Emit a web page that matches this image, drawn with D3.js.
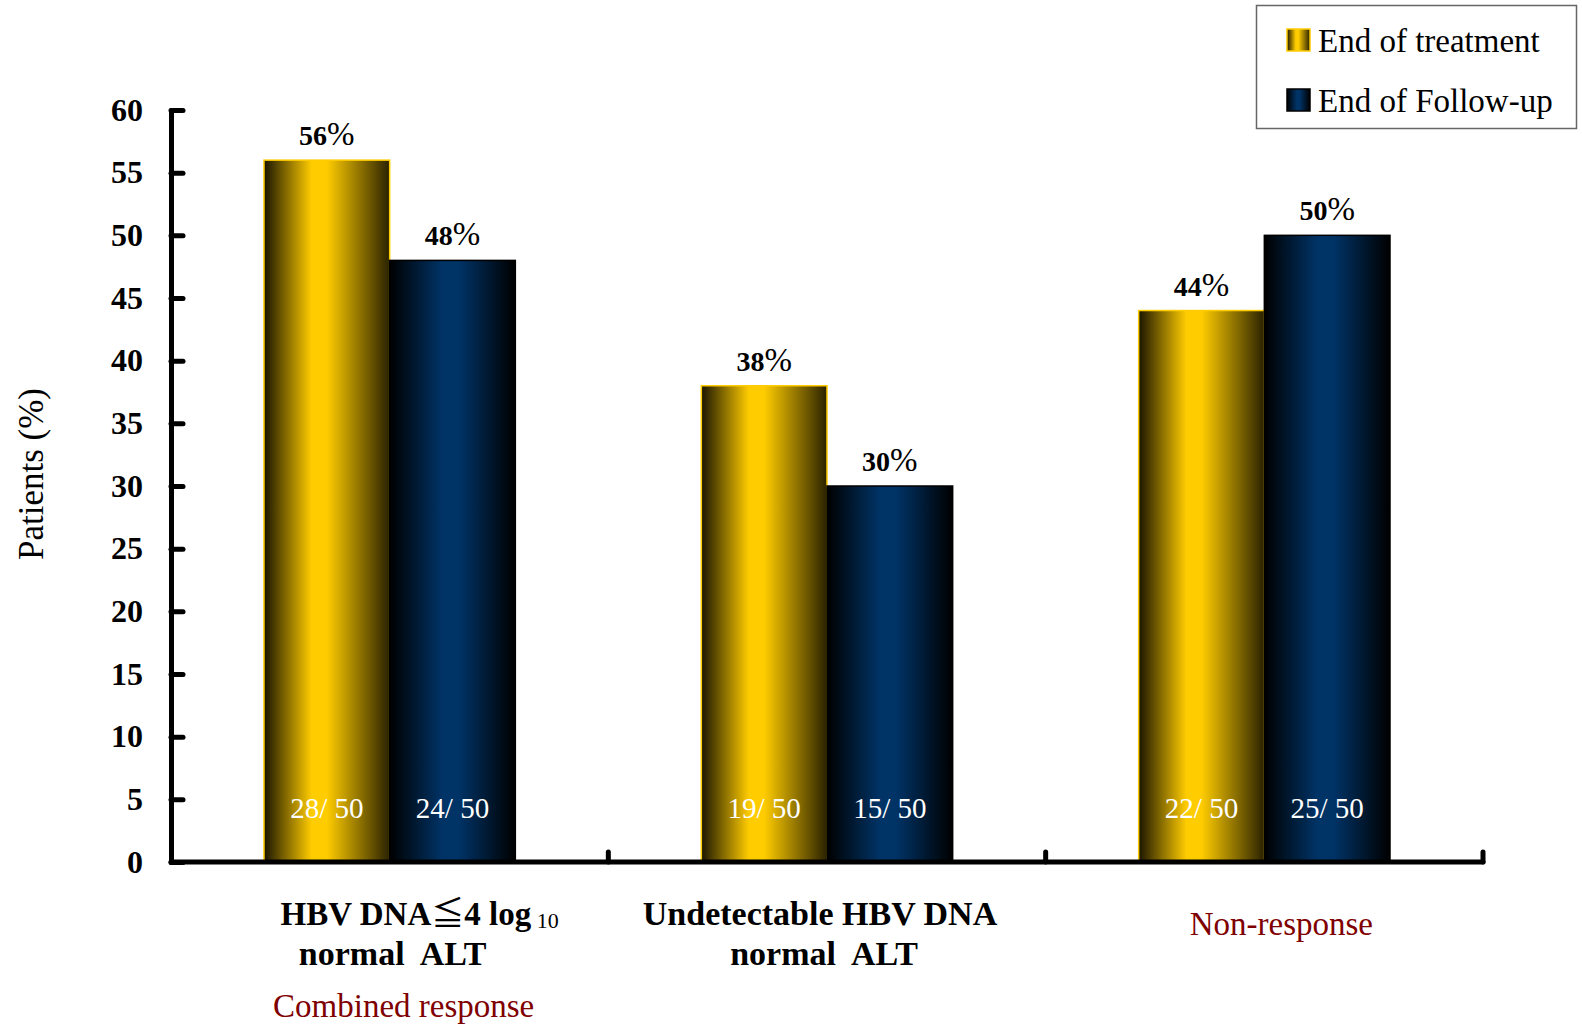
<!DOCTYPE html>
<html>
<head>
<meta charset="utf-8">
<script src="https://cdn.jsdelivr.net/npm/d3@7"></script>
<style>
  html, body { margin: 0; padding: 0; background: #fff; }
  svg { display: block; font-family: "Liberation Serif", "Times New Roman", serif; }
</style>
</head>
<body>
<svg id="chart" width="1582" height="1029"></svg>
<script>
// Response rates (%) per outcome group
const categories = ["HBV DNA≦4 log10 normal ALT", "Undetectable HBV DNA normal ALT", "Non-response"];
const seriesNames = ["End of treatment", "End of Follow-up"];
const endOfTreatment = [56, 38, 44];
const endOfFollowUp = [48, 30, 50];
const treatmentCounts = ["28/ 50", "19/ 50", "22/ 50"];
const followUpCounts = ["24/ 50", "15/ 50", "25/ 50"];
const yTicks = [0, 5, 10, 15, 20, 25, 30, 35, 40, 45, 50, 55, 60];

const svg = d3.select("#chart");
const plotLeft = 171, plotRight = 1483, plotTop = 110, plotBottom = 862;

const x = d3.scaleBand().domain(categories).range([plotLeft, plotRight]).paddingInner(0).paddingOuter(0);
const inner = d3.scaleBand().domain(seriesNames).range([93, x.bandwidth() - 93]).padding(0);
const y = d3.scaleLinear().domain([0, 60]).range([plotBottom, plotTop]);

// Cylinder-like horizontal gradients for the two series
const defs = svg.append("defs");
function hGradient(id, stops) {
  const g = defs.append("linearGradient").attr("id", id)
    .attr("x1", "0%").attr("x2", "100%").attr("y1", "0%").attr("y2", "0%");
  stops.forEach(([o, c]) => g.append("stop").attr("offset", o).attr("stop-color", c));
}
hGradient("gradGold", [[0, "#1a1500"], [0.38, "#ffcc00"], [0.5, "#ffcc00"], [1, "#2a2200"]]);
hGradient("gradNavy", [[0, "#000000"], [0.42, "#003366"], [0.55, "#003366"], [1, "#000000"]]);

const seriesStyle = {
  "End of treatment": { fill: "url(#gradGold)", stroke: "#ffcc00" },
  "End of Follow-up": { fill: "url(#gradNavy)", stroke: "#000000" }
};

const rows = categories.map((c, i) => ({
  cat: c,
  bars: [
    { series: seriesNames[0], value: endOfTreatment[i], count: treatmentCounts[i] },
    { series: seriesNames[1], value: endOfFollowUp[i], count: followUpCounts[i] }
  ]
}));

const groups = svg.append("g").selectAll("g").data(rows).join("g")
  .attr("transform", d => `translate(${x(d.cat)},0)`);

groups.selectAll("rect").data(d => d.bars).join("rect")
  .attr("x", d => inner(d.series))
  .attr("y", d => y(d.value))
  .attr("width", inner.bandwidth())
  .attr("height", d => y(0) - y(d.value))
  .attr("fill", d => seriesStyle[d.series].fill)
  .attr("stroke", d => seriesStyle[d.series].stroke)
  .attr("stroke-width", 1.5);

// Percentages above the bars
const pct = groups.selectAll("text.pct").data(d => d.bars).join("text")
  .attr("class", "pct")
  .attr("x", d => inner(d.series) + inner.bandwidth() / 2)
  .attr("y", d => y(d.value) - 15)
  .attr("text-anchor", "middle")
  .attr("font-size", 28);
pct.append("tspan").attr("font-weight", "bold").text(d => d.value);
pct.append("tspan").attr("font-size", 33).text("%");

// Patient counts inside the bars
groups.selectAll("text.cnt").data(d => d.bars).join("text")
  .attr("class", "cnt")
  .attr("x", d => inner(d.series) + inner.bandwidth() / 2)
  .attr("y", y(0) - 44)
  .attr("text-anchor", "middle")
  .attr("font-size", 29)
  .attr("fill", "#ffffff")
  .text(d => d.count);

// Y axis
const yAxis = d3.axisLeft(y).tickValues(yTicks).tickSizeInner(-12).tickSizeOuter(0).tickPadding(28);
const yg = svg.append("g").attr("transform", `translate(${plotLeft},0)`).call(yAxis);
yg.select(".domain").attr("stroke", "#000").attr("stroke-width", 5).attr("stroke-linecap", "round");
yg.selectAll(".tick line").attr("stroke", "#000").attr("stroke-width", 5).attr("stroke-linecap", "round");
yg.selectAll(".tick text").attr("font-size", 32).attr("font-weight", "bold")
  .attr("font-family", "'Liberation Serif', 'Times New Roman', serif").attr("fill", "#000");

// X axis baseline with group separators
svg.append("line")
  .attr("x1", plotLeft).attr("x2", plotRight).attr("y1", y(0)).attr("y2", y(0))
  .attr("stroke", "#000").attr("stroke-width", 5).attr("stroke-linecap", "round");
svg.append("g").selectAll("line").data(categories).join("line")
  .attr("x1", d => x(d) + x.bandwidth()).attr("x2", d => x(d) + x.bandwidth())
  .attr("y1", y(0)).attr("y2", y(0) - 10)
  .attr("stroke", "#000").attr("stroke-width", 5).attr("stroke-linecap", "round");

// Category labels
const cx = i => x(categories[i]) + x.bandwidth() / 2;
const l1 = svg.append("text").attr("x", cx(0) + 30).attr("y", 925)
  .attr("text-anchor", "middle").attr("font-size", 33).attr("font-weight", "bold");
l1.append("tspan").text("HBV DNA");
l1.append("tspan").attr("font-family", "'Noto Sans CJK TC', 'Noto Sans CJK SC', sans-serif")
  .attr("font-weight", "normal").text("≦");
l1.append("tspan").text("4 log");
l1.append("tspan").attr("font-size", 22).attr("font-weight", "normal").attr("dy", 3).text(" 10");
svg.append("text").attr("x", cx(0) + 3).attr("y", 965).attr("text-anchor", "middle")
  .attr("font-size", 34).attr("font-weight", "bold").attr("xml:space", "preserve").text("normal  ALT");
svg.append("text").attr("x", cx(0) + 14).attr("y", 1017).attr("text-anchor", "middle")
  .attr("font-size", 33).attr("fill", "#7f0000").text("Combined response");

svg.append("text").attr("x", cx(1) - 7).attr("y", 925).attr("text-anchor", "middle")
  .attr("font-size", 34).attr("font-weight", "bold").text("Undetectable HBV DNA");
svg.append("text").attr("x", cx(1) - 3).attr("y", 965).attr("text-anchor", "middle")
  .attr("font-size", 34).attr("font-weight", "bold").attr("xml:space", "preserve").text("normal  ALT");

svg.append("text").attr("x", cx(2) + 17).attr("y", 935).attr("text-anchor", "middle")
  .attr("font-size", 33).attr("fill", "#7f0000").text("Non-response");

// Y axis title
svg.append("text")
  .attr("transform", "translate(43,474) rotate(-90)")
  .attr("text-anchor", "middle").attr("font-size", 35)
  .text("Patients (%)");

// Legend
const legend = svg.append("g");
legend.append("rect").attr("x", 1256.5).attr("y", 5.5).attr("width", 320).attr("height", 123)
  .attr("fill", "#fff").attr("stroke", "#666").attr("stroke-width", 1.5);
const li = legend.selectAll("g").data(seriesNames).join("g")
  .attr("transform", (d, i) => `translate(1287,${29 + i * 60})`);
li.append("rect").attr("width", 23).attr("height", 22)
  .attr("fill", d => seriesStyle[d].fill).attr("stroke", d => seriesStyle[d].stroke).attr("stroke-width", 1.5);
li.append("text").attr("x", 31).attr("y", 23).attr("font-size", 33).text(d => d);
</script>
</body>
</html>
